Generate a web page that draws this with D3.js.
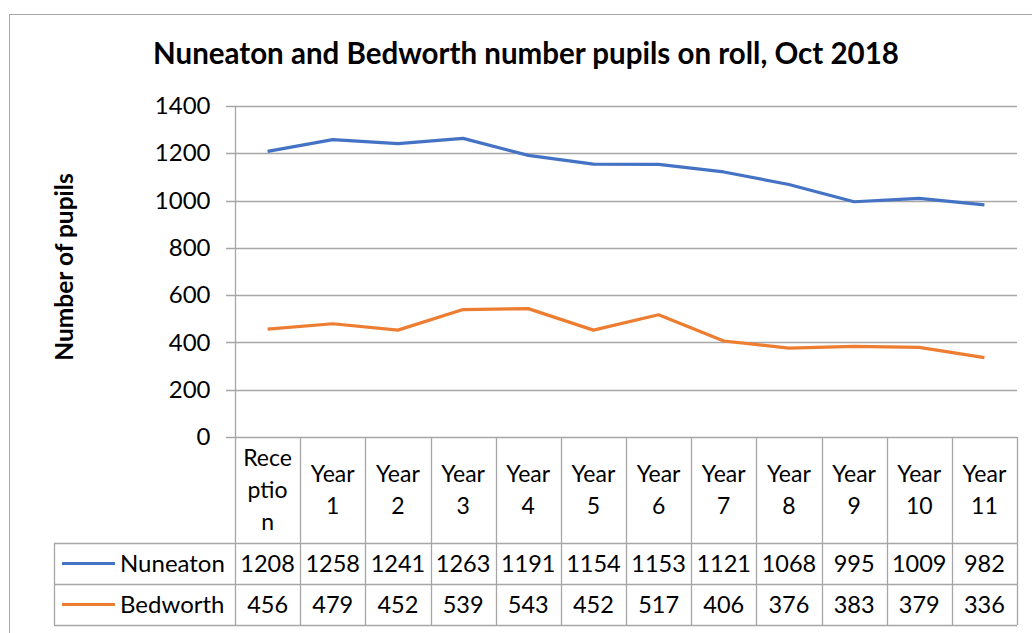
<!DOCTYPE html>
<html>
<head>
<meta charset="utf-8">
<script src="https://cdn.jsdelivr.net/npm/d3@7"></script>
<style>
  body { margin: 0; background: #fff; }
  svg text { font-family: Lato, "Open Sans", sans-serif; fill: #000; }
</style>
</head>
<body>
<svg id="chart" width="1032" height="633"></svg>
<script>
// data
const categories = ["Reception", "Year 1", "Year 2", "Year 3", "Year 4", "Year 5",
                    "Year 6", "Year 7", "Year 8", "Year 9", "Year 10", "Year 11"];
const categoryLines = [["Rece", "ptio", "n"], ["Year", "1"], ["Year", "2"], ["Year", "3"],
                       ["Year", "4"], ["Year", "5"], ["Year", "6"], ["Year", "7"],
                       ["Year", "8"], ["Year", "9"], ["Year", "10"], ["Year", "11"]];
const nuneaton = [1208, 1258, 1241, 1263, 1191, 1154, 1153, 1121, 1068, 995, 1009, 982];
const bedworth = [456, 479, 452, 539, 543, 452, 517, 406, 376, 383, 379, 336];
const yTicks = [0, 200, 400, 600, 800, 1000, 1200, 1400];
const seriesNames = ["Nuneaton", "Bedworth"];
const seriesColors = ["#4472C4", "#ED7D31"];

const series = [nuneaton, bedworth];

const svg = d3.select("#chart");
const plot = {left: 235, right: 1017, top: 106, bottom: 437};
const table = {left: 54, header: 543, row1: 584, row2: 625};
const gridColor = "#a6a6a6";

// outer chart frame (cropped on right/bottom in the reference)
svg.append("rect")
  .attr("x", 9.5).attr("y", 14.5)
  .attr("width", 1100).attr("height", 700)
  .attr("fill", "none").attr("stroke", "#a6a6a6").attr("stroke-width", 1);

const x = d3.scaleBand()
  .domain(categories)
  .range([plot.left, plot.right])
  .paddingInner(0).paddingOuter(0);

const y = d3.scaleLinear()
  .domain([0, 1400])
  .range([plot.bottom, plot.top]);

// gridlines
svg.append("g").attr("class", "grid")
  .selectAll("line")
  .data(yTicks)
  .enter().append("line")
  .attr("x1", plot.left - 9).attr("x2", plot.right)
  .attr("y1", d => Math.round(y(d)) + 0.5).attr("y2", d => Math.round(y(d)) + 0.5)
  .attr("stroke", gridColor).attr("stroke-width", 1.3);

// y axis
const yAxis = svg.append("g")
  .attr("transform", "translate(" + (plot.left + 0.5) + ",0)")
  .call(d3.axisLeft(y).tickValues(yTicks).tickSize(0).tickPadding(25)
    .tickFormat(d3.format("d")));
yAxis.select(".domain").remove();
yAxis.selectAll("text")
  .style("font-size", "24px")
  .style("font-family", "Lato, sans-serif")
  .attr("fill", "#000");

// vertical axis line, runs through the data table header
svg.append("line")
  .attr("x1", plot.left + 0.5).attr("x2", plot.left + 0.5)
  .attr("y1", plot.top).attr("y2", table.row2)
  .attr("stroke", gridColor).attr("stroke-width", 1.3);

// table lines
const boundaries = categories.map(c => x(c) + x.bandwidth());
svg.append("g").selectAll("line")
  .data(boundaries)
  .enter().append("line")
  .attr("x1", d => Math.round(d) + 0.5).attr("x2", d => Math.round(d) + 0.5)
  .attr("y1", plot.bottom).attr("y2", table.row2)
  .attr("stroke", gridColor).attr("stroke-width", 1.3);

[table.header, table.row1, table.row2].forEach(yy => {
  svg.append("line")
    .attr("x1", table.left).attr("x2", plot.right)
    .attr("y1", yy + 0.5).attr("y2", yy + 0.5)
    .attr("stroke", gridColor).attr("stroke-width", 1.3);
});
svg.append("line")
  .attr("x1", table.left + 0.5).attr("x2", table.left + 0.5)
  .attr("y1", table.header).attr("y2", table.row2)
  .attr("stroke", gridColor).attr("stroke-width", 1.3);

// header row: category names
const lineH = 32;
const headerMid = (plot.bottom + table.header) / 2;
categories.forEach((c, i) => {
  const lines = categoryLines[i];
  const t = svg.append("text")
    .attr("text-anchor", "middle")
    .style("font-size", "23px");
  lines.forEach((s, j) => {
    t.append("tspan")
      .attr("x", x(c) + x.bandwidth() / 2)
      .attr("y", headerMid + (j - (lines.length - 1) / 2) * lineH + 8)
      .text(s);
  });
});

// data rows
const rowTops = [table.header, table.row1];
series.forEach((vals, si) => {
  const mid = (rowTops[si] + rowTops[si] + 41) / 2;
  svg.append("line")
    .attr("x1", 62).attr("x2", 115)
    .attr("y1", mid).attr("y2", mid)
    .attr("stroke", seriesColors[si]).attr("stroke-width", 3);
  svg.append("text")
    .attr("x", 120).attr("y", mid + 8)
    .style("font-size", "24px")
    .text(seriesNames[si]);
  svg.append("g").selectAll("text")
    .data(vals)
    .enter().append("text")
    .attr("x", (d, i) => x(categories[i]) + x.bandwidth() / 2)
    .attr("y", mid + 8)
    .attr("text-anchor", "middle")
    .style("font-size", "23.5px")
    .text(d => d);
});

// lines
const line = d3.line()
  .x((d, i) => x(categories[i]) + x.bandwidth() / 2)
  .y(d => y(d));

series.forEach((vals, si) => {
  svg.append("path")
    .datum(vals)
    .attr("d", line)
    .attr("fill", "none")
    .attr("stroke", seriesColors[si])
    .attr("stroke-width", 3.2)
    .attr("stroke-linejoin", "round");
});

// title
svg.append("text")
  .attr("x", 526).attr("y", 64)
  .attr("text-anchor", "middle")
  .style("font-size", "29.5px")
  .style("font-weight", "bold")
  .text("Nuneaton and Bedworth number pupils on roll, Oct 2018");

// y axis title
svg.append("text")
  .attr("transform", "translate(73,267) rotate(-90)")
  .attr("text-anchor", "middle")
  .style("font-size", "24.5px")
  .style("font-weight", "bold")
  .text("Number of pupils");
</script>
</body>
</html>
